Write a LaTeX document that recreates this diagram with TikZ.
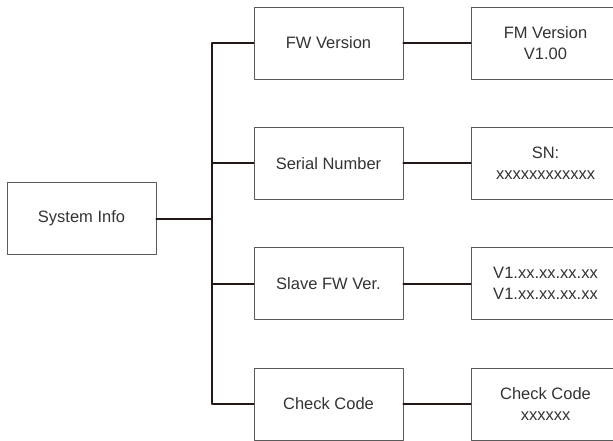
\documentclass[tikz,border=0pt]{standalone}
\usepackage{fontspec}
\setmainfont{Liberation Sans}
\definecolor{boxline}{HTML}{5A5A5A}
\definecolor{linkline}{HTML}{231815}
\definecolor{txt}{HTML}{333333}
\tikzset{
	menubox/.style={draw=boxline, line width=0.9pt, minimum width=149pt, minimum height=72pt,
		inner sep=0pt, align=center, text=txt},
	link/.style={draw=linkline, line width=2pt}
}
\begin{document}
\begin{tikzpicture}[x=1pt, y=-1pt, font=\fontsize{16.5}{21}\selectfont, line join=round, line cap=round]
	% --- Khung ---
	\useasboundingbox (0,0) rectangle (613,440);
	\clip (0,0) rectangle (613,440);
	% --- Nút gốc ---
	\node[menubox] (sys) at (81.5,218.5) {System Info};
	\coordinate (bus) at (212,218.5);
	% --- Cột giữa ---
	\node[menubox] (fw)  at (328.5,43)    {FW Version};
	\node[menubox] (sn)  at (328.5,163.3) {Serial Number};
	\node[menubox] (sfw) at (328.5,283.6) {Slave FW Ver.};
	\node[menubox] (chk) at (328.5,404)   {Check Code};
	% --- Cột phải ---
	\node[menubox] (fwv)  at (545.5,43)    {FM Version\\V1.00};
	\node[menubox] (snv)  at (545.5,163.3) {SN:\\xxxxxxxxxxxx};
	\node[menubox] (sfwv) at (545.5,283.6) {V1.xx.xx.xx.xx\\V1.xx.xx.xx.xx};
	\node[menubox] (chkv) at (545.5,404)   {Check Code\\xxxxxx};
	% --- Đường nối ---
	\draw[link] (sys.east) -- (bus);
	\foreach \n in {fw,sn,sfw,chk}{
		\draw[link] (bus) |- (\n.west);
		\draw[link] (\n.east) -- (\n v.west);
	}
\end{tikzpicture}
\end{document}
